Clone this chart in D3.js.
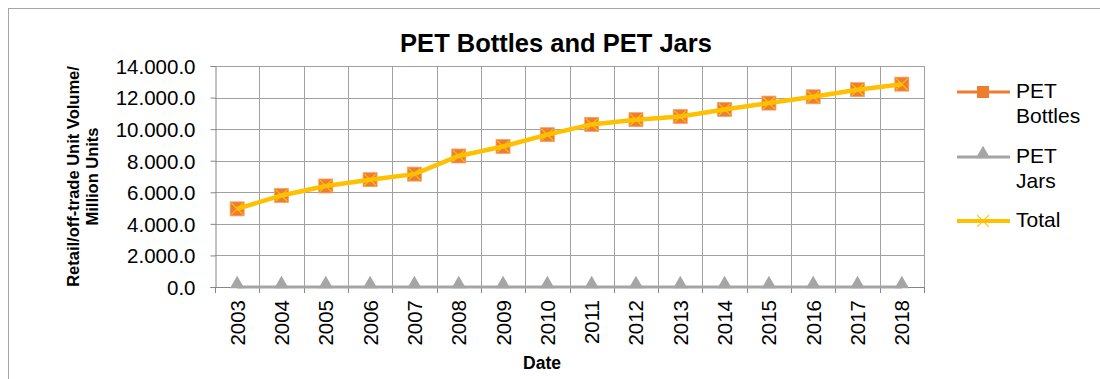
<!DOCTYPE html>
<html>
<head>
<meta charset="utf-8">
<script src="https://cdn.jsdelivr.net/npm/d3@7"></script>
<style>
  html, body { margin: 0; padding: 0; background: #fff; }
  svg { display: block; font-family: "Liberation Sans", Arial, sans-serif; }
</style>
</head>
<body>
<svg id="chart" width="1100" height="379"></svg>
<script>
// Retail/off-trade unit volume, million units
const years = ["2003","2004","2005","2006","2007","2008","2009","2010","2011","2012","2013","2014","2015","2016","2017","2018"];
const petBottles = [4950, 5800, 6400, 6800, 7150, 8300, 8900, 9650, 10300, 10600, 10800, 11250, 11650, 12050, 12500, 12850];
const petJars    = [0, 0, 0, 0, 0, 0, 0, 0, 0, 0, 0, 0, 0, 0, 0, 0];
const total      = petBottles.map((v, i) => v + petJars[i]);
const yTicks     = [0, 2000, 4000, 6000, 8000, 10000, 12000, 14000];

const svg = d3.select("#chart");
const margin = { left: 215, right: 924, top: 66, bottom: 287 };

const x = d3.scaleBand().domain(years).range([margin.left, margin.right]);
const y = d3.scaleLinear().domain([0, 14000]).range([margin.bottom, margin.top]);

// number format like 14.000.0
const fmt = v => d3.format(",.1f")(v).replace(/,/g, ".");

// outer frame
svg.append("rect").attr("x", 8.5).attr("y", 8.5).attr("width", 1200).attr("height", 500)
  .attr("fill", "none").attr("stroke", "#a6a6a6").attr("stroke-width", 1);

// horizontal gridlines
svg.append("g").selectAll("line").data(yTicks.filter(d => d > 0)).join("line")
  .attr("x1", margin.left).attr("x2", margin.right)
  .attr("y1", d => Math.round(y(d)) + 0.5).attr("y2", d => Math.round(y(d)) + 0.5)
  .attr("stroke", "#a0a0a0").attr("stroke-width", 1);

// vertical gridlines at category boundaries
const bounds = years.map(d => x(d)).concat([margin.right]);
svg.append("g").selectAll("line").data(bounds.slice(1)).join("line")
  .attr("x1", d => Math.round(d) + 0.5).attr("x2", d => Math.round(d) + 0.5)
  .attr("y1", margin.top).attr("y2", margin.bottom)
  .attr("stroke", "#a0a0a0").attr("stroke-width", 1);

// y axis
const yAxis = svg.append("g").attr("transform", `translate(${margin.left + 0.5},0)`)
  .call(d3.axisLeft(y).tickValues(yTicks).tickFormat(fmt).tickSize(5).tickPadding(15));
yAxis.select(".domain").attr("stroke", "#868686");
yAxis.selectAll(".tick line").attr("stroke", "#868686");
yAxis.selectAll(".tick text").attr("font-size", 20.5).attr("fill", "#000")
  .attr("font-family", "Liberation Sans, Arial, sans-serif").attr("dy", "0.36em");

// x axis: ticks at category boundaries, labels at centres
const xg = svg.append("g");
xg.append("line").attr("x1", margin.left).attr("x2", margin.right)
  .attr("y1", margin.bottom + 0.5).attr("y2", margin.bottom + 0.5).attr("stroke", "#868686");
xg.selectAll("line.tk").data(bounds).join("line").attr("class", "tk")
  .attr("x1", d => Math.round(d) + 0.5).attr("x2", d => Math.round(d) + 0.5)
  .attr("y1", margin.bottom).attr("y2", margin.bottom + 6).attr("stroke", "#868686");
xg.selectAll("text").data(years).join("text")
  .attr("transform", d => `translate(${x(d) + x.bandwidth() / 2 + 7.5},${margin.bottom + 13}) rotate(-90)`)
  .attr("text-anchor", "end").attr("font-size", 20.5).attr("fill", "#000")
  .text(d => d);

// axis titles
svg.append("text").attr("x", 542).attr("y", 369).attr("text-anchor", "middle")
  .attr("font-size", 17.5).attr("font-weight", "bold").text("Date");
const yt = svg.append("text").attr("transform", `translate(79,${(margin.top + margin.bottom) / 2}) rotate(-90)`)
  .attr("text-anchor", "middle").attr("font-size", 16.5).attr("font-weight", "bold");
yt.append("tspan").attr("x", 0).attr("dy", 0).text("Retail/off-trade Unit Volume/");
yt.append("tspan").attr("x", 0).attr("dy", 19).text("Million Units");

// title
svg.append("text").attr("x", 556).attr("y", 52).attr("text-anchor", "middle")
  .attr("font-size", 25.5).attr("font-weight", "bold").text("PET Bottles and PET Jars");

const cx = d => x(d) + x.bandwidth() / 2;
const lineGen = vals => d3.line().x((v, i) => cx(years[i])).y(v => y(v))(vals);

const orange = "#ED7D31", gray = "#A5A5A5", gold = "#FFC000";

// PET Jars
svg.append("path").attr("d", lineGen(petJars)).attr("fill", "none").attr("stroke", gray).attr("stroke-width", 3);
const tri = d3.symbol().type(d3.symbolTriangle).size(90);
svg.append("g").selectAll("path").data(petJars).join("path")
  .attr("d", tri).attr("transform", (v, i) => `translate(${cx(years[i])},${y(v) - 3})`).attr("fill", gray);

// PET Bottles
svg.append("path").attr("d", lineGen(petBottles)).attr("fill", "none").attr("stroke", orange).attr("stroke-width", 3);
svg.append("g").selectAll("rect").data(petBottles).join("rect")
  .attr("x", (v, i) => cx(years[i]) - 7).attr("y", v => y(v) - 7)
  .attr("width", 14).attr("height", 14).attr("fill", orange).attr("stroke", "#f4a070").attr("stroke-width", 0.8);

// Total
svg.append("path").attr("d", lineGen(total)).attr("fill", "none").attr("stroke", gold).attr("stroke-width", 4.5);
const cross = d3.symbol().type(d3.symbolX).size(90);
svg.append("g").selectAll("path").data(total).join("path")
  .attr("d", cross).attr("transform", (v, i) => `translate(${cx(years[i])},${y(v)})`)
  .attr("fill", "none").attr("stroke", gold).attr("stroke-width", 1.2);

// legend
const legend = [
  { name: ["PET", "Bottles"], color: orange, mark: "square", y: 92 },
  { name: ["PET", "Jars"], color: gray, mark: "triangle", y: 157 },
  { name: ["Total"], color: gold, mark: "x", y: 221 }
];
const lg = svg.append("g");
legend.forEach(it => {
  lg.append("line").attr("x1", 957).attr("x2", 1010).attr("y1", it.y).attr("y2", it.y)
    .attr("stroke", it.color).attr("stroke-width", it.mark === "x" ? 4 : 3);
  if (it.mark === "square") {
    lg.append("rect").attr("x", 977).attr("y", it.y - 6).attr("width", 12).attr("height", 12).attr("fill", it.color);
  } else if (it.mark === "triangle") {
    lg.append("path").attr("d", tri).attr("transform", `translate(983,${it.y - 3})`).attr("fill", it.color);
  } else {
    lg.append("path").attr("d", cross).attr("transform", `translate(983,${it.y})`)
      .attr("fill", "none").attr("stroke", it.color).attr("stroke-width", 1.2);
  }
  const t = lg.append("text").attr("x", 1016).attr("y", it.y + 6).attr("font-size", 21).attr("fill", "#000");
  it.name.forEach((s, k) => t.append("tspan").attr("x", 1016).attr("dy", k === 0 ? 0 : 24.5).text(s));
});
</script>
</body>
</html>
